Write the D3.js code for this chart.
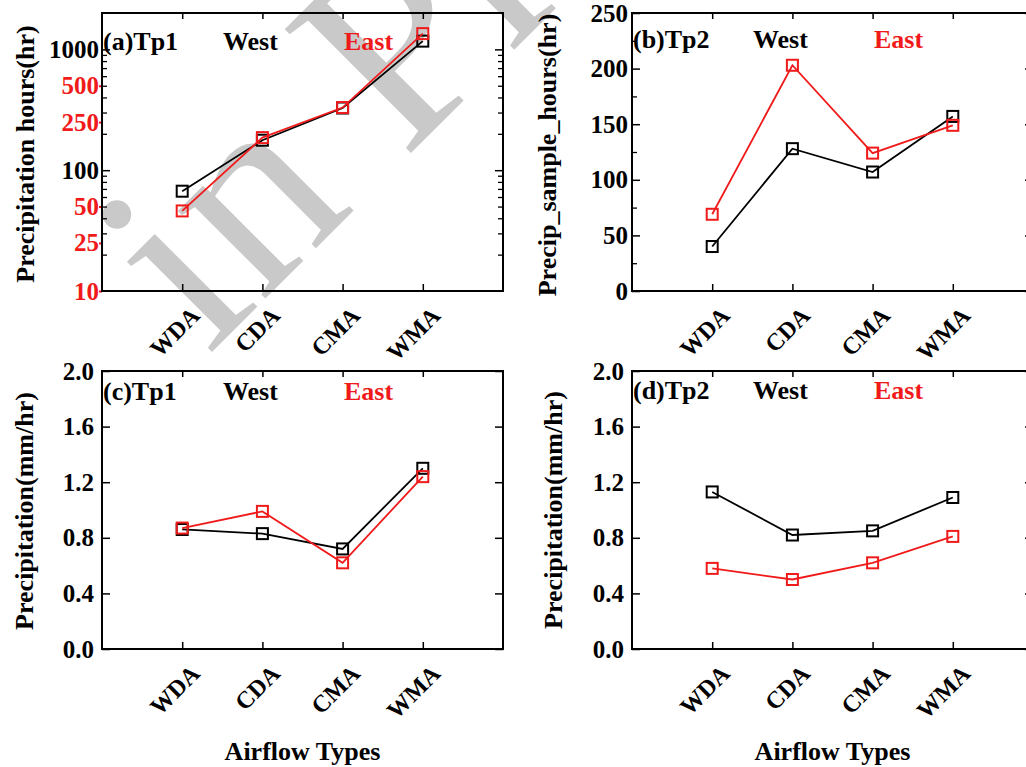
<!DOCTYPE html>
<html>
<head>
<meta charset="utf-8">
<script src="https://cdn.jsdelivr.net/npm/d3@7"></script>
<style>
  html, body { margin: 0; padding: 0; background: #fff; }
  svg { display: block; }
  text { font-family: "Liberation Serif", "Tinos", "Times New Roman", Times, "Nimbus Roman", "DejaVu Serif", serif !important; font-weight: bold; }
</style>
</head>
<body>
<svg id="chart" width="1026" height="767"></svg>
<script>
// ---------------- data ----------------
const categories = ["WDA", "CDA", "CMA", "WMA"];

const tp1HoursWest = [67, 177, 327, 1170];
const tp1HoursEast = [46, 186, 330, 1350];

const tp2HoursWest = [40, 128, 107, 157];
const tp2HoursEast = [69, 203, 124, 149];

const tp1RateWest = [0.86, 0.83, 0.72, 1.30];
const tp1RateEast = [0.87, 0.99, 0.62, 1.24];

const tp2RateWest = [1.13, 0.82, 0.85, 1.09];
const tp2RateEast = [0.58, 0.50, 0.62, 0.81];

const logBlackLabels = [100, 1000];
const logRedLabels = [10, 25, 50, 250, 500];
const hoursTickLabels = [0, 50, 100, 150, 200, 250];
const rateTickLabels = [0.0, 0.4, 0.8, 1.2, 1.6, 2.0];

const panelTitles = ["(a)Tp1", "(b)Tp2", "(c)Tp1", "(d)Tp2"];
const legendNames = ["West", "East"];
const yTitles = ["Precipitation hours(hr)", "Precip_sample_hours(hr)", "Precipitation(mm/hr)", "Precipitation(mm/hr)"];
const xTitle = "Airflow Types";
const watermark = "in Press";

// ---------------- styles ----------------
const RED = "#f01a1a";
const BLACK = "#000";
const W = 401, H = 278;
const FS = 25;

const svg = d3.select("#chart");
svg.append("rect").attr("width", 1026).attr("height", 767).attr("fill", "#fff");

// watermark (behind everything)
svg.append("text")
  .attr("transform", "translate(208,356) rotate(-45)")
  .style("font-weight", "normal")
  .style("font-size", "270px")
  .attr("fill", "#c9c9c9")
  .text(watermark);

function panel(opts) {
  const g = svg.append("g").attr("transform", `translate(${opts.left},${opts.top})`);
  const x = d3.scalePoint().domain(categories).range([0, W]).padding(1);
  const y = opts.y;

  // top & bottom category ticks (inward)
  g.append("g").attr("transform", `translate(0,${H})`)
    .call(d3.axisBottom(x).tickSize(-7).tickFormat(""))
    .call(a => a.select(".domain").remove())
    .call(a => a.selectAll("line").attr("stroke-width", 1.5));
  g.append("g")
    .call(d3.axisTop(x).tickSize(-6).tickFormat(""))
    .call(a => a.select(".domain").remove())
    .call(a => a.selectAll("line").attr("stroke-width", 1.5));

  // minor y ticks
  if (opts.minor) {
    g.append("g").call(d3.axisLeft(y).tickValues(opts.minor).tickSize(-5).tickFormat(""))
      .call(a => a.select(".domain").remove())
      .call(a => a.selectAll("line").attr("stroke-width", 1.3));
    g.append("g").attr("transform", `translate(${W},0)`)
      .call(d3.axisRight(y).tickValues(opts.minor).tickSize(-5).tickFormat(""))
      .call(a => a.select(".domain").remove())
      .call(a => a.selectAll("line").attr("stroke-width", 1.3));
  }
  // major y ticks + labels
  const left = g.append("g")
    .call(d3.axisLeft(y).tickValues(opts.majorTicks).tickSize(-8).tickPadding(opts.pad).tickFormat(opts.fmt))
    .call(a => a.select(".domain").remove())
    .call(a => a.selectAll("line").attr("stroke-width", 1.5));
  left.selectAll("text").style("font-size", FS + "px").attr("fill", BLACK);
  if (opts.redTicks) {
    g.append("g").call(d3.axisLeft(y).tickValues(opts.redTicks).tickSize(3).tickPadding(opts.pad + 1).tickFormat(d => d))
      .call(a => a.select(".domain").remove())
      .call(a => a.selectAll("line").attr("stroke", RED).attr("stroke-width", 2))
      .call(a => a.selectAll("text").attr("x", -opts.pad).style("font-size", FS + "px").attr("fill", RED));
  }
  g.append("g").attr("transform", `translate(${W},0)`)
    .call(d3.axisRight(y).tickValues(opts.majorTicks).tickSize(-8).tickFormat(""))
    .call(a => a.select(".domain").remove())
    .call(a => a.selectAll("line").attr("stroke-width", 1.5));

  // frame
  g.append("rect").attr("width", W).attr("height", H)
    .attr("fill", "none").attr("stroke", BLACK).attr("stroke-width", 2);

  // x labels rotated
  g.append("g").selectAll("text").data(categories).join("text")
    .attr("transform", d => `translate(${x(d) + 19},${H + 26}) rotate(-45)`)
    .attr("text-anchor", "end")
    .style("font-size", "24px")
    .text(d => d);

  // series
  const line = d3.line().x((d, i) => x(categories[i])).y(d => y(d));
  [[opts.west, BLACK], [opts.east, RED]].forEach(([vals, col]) => {
    g.append("path").datum(vals).attr("d", line)
      .attr("fill", "none").attr("stroke", col).attr("stroke-width", 1.8);
    g.append("g").selectAll("rect").data(vals).join("rect")
      .attr("x", (d, i) => x(categories[i]) - 5.5)
      .attr("y", d => y(d) - 5.5)
      .attr("width", 11).attr("height", 11)
      .attr("fill", "none").attr("stroke", col).attr("stroke-width", 2);
  });

  // panel labels
  g.append("text").attr("x", 1).attr("y", opts.titleY).style("font-size", "26px").text(opts.title);
  g.append("text").attr("x", 121).attr("y", opts.titleY).style("font-size", "26px").text(legendNames[0]);
  g.append("text").attr("x", 242).attr("y", opts.titleY).style("font-size", "26px").attr("fill", RED).text(legendNames[1]);

  // y title
  g.append("text")
    .attr("transform", `translate(${opts.yTitleX},${opts.yTitleY}) rotate(-90)`)
    .attr("text-anchor", "middle").attr("dy", "0.35em")
    .style("font-size", "26px")
    .text(opts.yTitle);

  if (opts.xTitle) {
    g.append("text").attr("x", W / 2).attr("y", 389)
      .attr("text-anchor", "middle").style("font-size", "26px").text(opts.xTitle);
  }
}

// panel a : log scale
const yA = d3.scaleLog().domain([10, 2000]).range([H, 0]);
const minorA = [];
[10, 100, 1000].forEach(dec => { for (let k = 2; k <= 9; k++) { const v = dec * k; if (v < 2000) minorA.push(v); } });
panel({
  left: 102, top: 13, y: yA,
  majorTicks: logBlackLabels,
  minor: minorA,
  redTicks: logRedLabels,
  fmt: d => d, pad: 3,
  west: tp1HoursWest, east: tp1HoursEast,
  title: panelTitles[0], titleY: 37,
  yTitle: yTitles[0], yTitleX: -77, yTitleY: 141
});

// panel b
const yB = d3.scaleLinear().domain([0, 250]).range([H, 0]);
panel({
  left: 632, top: 13, y: yB,
  majorTicks: hoursTickLabels,
  minor: [25, 75, 125, 175, 225],
  fmt: d => d, pad: 4,
  west: tp2HoursWest, east: tp2HoursEast,
  title: panelTitles[1], titleY: 35,
  yTitle: yTitles[1], yTitleX: -85, yTitleY: 142
});

// panel c
const yC = d3.scaleLinear().domain([0, 2]).range([H, 0]);
panel({
  left: 102, top: 371, y: yC,
  majorTicks: rateTickLabels,
  fmt: d3.format(".1f"), pad: 8,
  west: tp1RateWest, east: tp1RateEast,
  title: panelTitles[2], titleY: 29,
  yTitle: yTitles[2], yTitleX: -78, yTitleY: 140,
  xTitle: xTitle
});

// panel d
const yD = d3.scaleLinear().domain([0, 2]).range([H, 0]);
panel({
  left: 632, top: 371, y: yD,
  majorTicks: rateTickLabels,
  fmt: d3.format(".1f"), pad: 8,
  west: tp2RateWest, east: tp2RateEast,
  title: panelTitles[3], titleY: 28,
  yTitle: yTitles[3], yTitleX: -79, yTitleY: 139,
  xTitle: xTitle
});
</script>
</body>
</html>
